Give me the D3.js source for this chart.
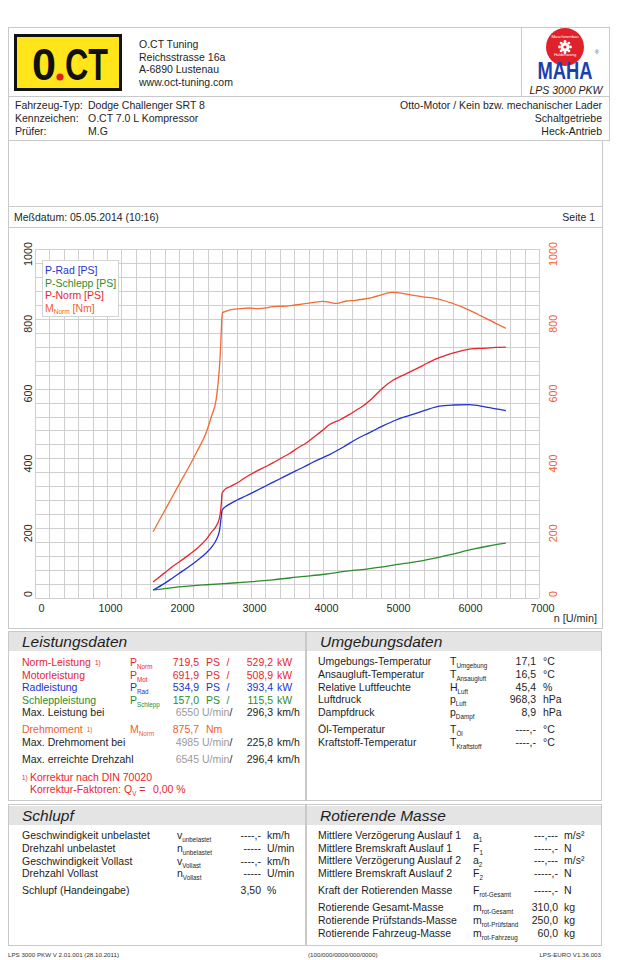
<!DOCTYPE html>
<html><head><meta charset="utf-8">
<script src="https://cdn.jsdelivr.net/npm/d3@7"></script>
<style>
body{margin:0;background:#fff}
svg{display:block;font-family:"Liberation Sans",Arial,Helvetica,sans-serif}
</style>
</head><body>
<svg id="c" width="617" height="960"></svg>
<script>
// ---------------- DATA ----------------
const rpmTorque = [1640,1800,1915,2000,2146,2250,2378,2450,2517,2545,2563,2578,2586,2595,2605,2632,2700,2748,2850,2980,3100,3211,3300,3443,3550,3674,3800,3900,3998,4092,4184,4323,4450,4554,4680,4785,4880,4970,5100,5200,5385,5570,5700,5801,5920,6032,6150,6263,6400,6540];
const torqueNorm = [190,250,293,325,379,420,474,520,570,620,665,720,760,800,818,820,825,827,829,831,829,831,835,836,838,841,845,848,850,847,844,851,853,856,861,867,873,876,873,869,863,858,851,844,835,825,813,801,787,773];

const rpmNorm = [1640,1800,1915,2000,2146,2250,2378,2450,2517,2545,2563,2578,2590,2598,2632,2700,2841,2950,3072,3200,3304,3420,3535,3650,3767,3880,3998,4092,4230,4369,4460,4554,4693,4831,4970,5100,5200,5385,5570,5700,5801,5920,6032,6263,6401,6540];
const powerNorm = [46,72,91,103,125,142,168,188,206,218,230,250,275,300,310,318,334,349,363,376,387,401,414,430,444,462,481,497,510,526,538,550,574,602,624,637,647,666,685,695,702,708,713,716,718,719];

const rpmRad = [1640,1800,1915,2000,2146,2250,2378,2450,2517,2545,2563,2575,2586,2600,2650,2702,2800,2933,3050,3165,3280,3396,3510,3628,3740,3859,3975,4091,4277,4462,4647,4831,5016,5247,5478,5616,5801,6032,6263,6540];
const powerRad = [23,42,58,70,91,107,129,145,166,180,194,212,232,252,262,269,280,293,305,317,329,341,353,365,376,389,400,411,432,455,474,493,510,526,542,550,553,554,547,537];

const rpmSchlepp = [1640,1915,2378,2755,3300,3700,4028,4300,4607,5069,5389,5764,6083,6300,6540];
const powerSchlepp = [23,30,38,43,52,61,68,76,83,97,107,124,140,149,157];

const xTickValues = [0,1000,2000,3000,4000,5000,6000,7000];
const yTickValues = [0,200,400,600,800,1000];
const legendItems = [["P-Rad [PS]","","", "#2233cc"],["P-Schlepp [PS]","","","#2e8b2e"],["P-Norm [PS]","","","#e8262d"],["M","Norm"," [Nm]","#f0602a"]];

const companyLines = ["O.CT Tuning","Reichsstrasse 16a","A-6890 Lustenau","www.oct-tuning.com"];
const vehicleLeft = [["Fahrzeug-Typ:","Dodge Challenger SRT 8"],["Kennzeichen:","O.CT 7.0 L Kompressor"],["Prüfer:","M.G"]];
const vehicleRight = ["Otto-Motor / Kein bzw. mechanischer Lader","Schaltgetriebe","Heck-Antrieb"];

// ---------------- COLORS ----------------
const C = {red:"#e8262d", blue:"#2233cc", green:"#2e8b2e", orange:"#f0602a", text:"#1e1e1e", gray:"#9a9a9a", border:"#c9c9c9", band:"#e4e4e4", grid:"#cfcfcf"};
const FS = 10.5;

const svg = d3.select("#c");

// ---------------- FRAMES ----------------
function box(x1,y1,x2,y2,fill){ svg.append("rect").attr("x",x1+0.5).attr("y",y1+0.5).attr("width",x2-x1).attr("height",y2-y1).attr("fill",fill||"none").attr("stroke",C.border).attr("stroke-width",1); }
box(8,27,609,96);
svg.append("line").attr("x1",521.5).attr("x2",521.5).attr("y1",27).attr("y2",96).attr("stroke",C.border);
box(8,96,609,140);
box(8,140,602,206);
box(8,206,602,227);
box(8,227,602,628);
box(8,631,305,800); box(306,631,601,800);
box(8,804,305,945); box(306,804,601,945);

// ---------------- HEADER ----------------
// O.CT logo
svg.append("rect").attr("x",15.5).attr("y",35.5).attr("width",105).attr("height",54).attr("fill","#ffe51a").attr("stroke","#111").attr("stroke-width",3);
svg.append("text").attr("x",32).attr("y",80).attr("font-size",44).attr("font-weight","bold").attr("textLength",24).attr("lengthAdjust","spacingAndGlyphs").attr("fill","#111").text("0");
svg.append("text").attr("x",65).attr("y",80).attr("font-size",44).attr("font-weight","bold").attr("textLength",43).attr("lengthAdjust","spacingAndGlyphs").attr("fill","#111").text("CT");
svg.append("circle").attr("cx",60).attr("cy",77).attr("r",3.6).attr("fill","#e02020");

companyLines.forEach((t,i)=> svg.append("text").attr("x",139).attr("y",48+i*12.7).attr("font-size",FS).attr("fill",C.text).text(t));

// MAHA logo
const mg = svg.append("g");
mg.append("circle").attr("cx",565).attr("cy",47).attr("r",19).attr("fill","#e0202a");
const gear = d3.range(8).map(i=>{const a=i*Math.PI/4; return [565+Math.cos(a)*5.5, 47+Math.sin(a)*5.5];});
gear.forEach(p=> mg.append("circle").attr("cx",p[0]).attr("cy",p[1]).attr("r",1.4).attr("fill","#fff"));
mg.append("circle").attr("cx",565).attr("cy",47).attr("r",4.5).attr("fill","#fff");
mg.append("circle").attr("cx",565).attr("cy",47).attr("r",1.6).attr("fill","#e0202a");
mg.append("text").attr("x",565).attr("y",38).attr("text-anchor","middle").attr("font-size",4.2).attr("fill","#fff").text("Maschinenbau");
mg.append("text").attr("x",565).attr("y",56).attr("text-anchor","middle").attr("font-size",4).attr("fill","#fff").text("Haldenwang");
mg.append("text").attr("x",565).attr("y",79).attr("text-anchor","middle").attr("font-size",23).attr("font-weight","bold").attr("textLength",55).attr("lengthAdjust","spacingAndGlyphs").attr("fill","#1a3fb0").text("MAHA");
mg.append("text").attr("x",595).attr("y",54).attr("font-size",5).attr("fill","#1a3fb0").text("®");
svg.append("text").attr("x",566).attr("y",93.5).attr("text-anchor","middle").attr("font-size",FS).attr("font-style","italic").attr("fill",C.text).text("LPS 3000 PKW");

vehicleLeft.forEach((r,i)=>{
  svg.append("text").attr("x",15).attr("y",109+i*12.8).attr("font-size",FS).attr("fill",C.text).text(r[0]);
  svg.append("text").attr("x",88).attr("y",109+i*12.8).attr("font-size",FS).attr("fill",C.text).text(r[1]);
});
vehicleRight.forEach((t,i)=> svg.append("text").attr("x",602).attr("y",109+i*12.8).attr("text-anchor","end").attr("font-size",FS).attr("fill",C.text).text(t));

svg.append("text").attr("x",14).attr("y",221).attr("font-size",FS).attr("fill",C.text).text("Meßdatum: 05.05.2014 (10:16)");
svg.append("text").attr("x",595).attr("y",221).attr("text-anchor","end").attr("font-size",FS).attr("fill",C.text).text("Seite 1");

// ---------------- CHART ----------------
const x = d3.scaleLinear().domain([0,7000]).range([35,539]);
const y = d3.scaleLinear().domain([0,1000]).range([598,249]);
const grid = svg.append("g").attr("stroke",C.grid).attr("stroke-width",1);
d3.range(0,7001,200).forEach(v=> grid.append("line").attr("x1",Math.round(x(v))+0.5).attr("x2",Math.round(x(v))+0.5).attr("y1",y(0)).attr("y2",y(1000)));
d3.range(0,1001,40).forEach(v=> grid.append("line").attr("y1",Math.round(y(v))+0.5).attr("y2",Math.round(y(v))+0.5).attr("x1",x(0)).attr("x2",x(7000)));

const xAxis = d3.axisBottom(x).tickValues(xTickValues).tickSize(0).tickPadding(0).tickFormat(d3.format("d"));
const gx = svg.append("g").attr("transform","translate(0,612)").call(xAxis);
gx.select(".domain").remove();
gx.selectAll("text").attr("font-size",10.8).attr("fill","#2a2a2a").attr("font-family","Liberation Sans, Arial, sans-serif").attr("dy",0).attr("dx",d=> d===0?6:3).attr("y",0);

function yLabels(xPos,color){
  yTickValues.forEach(v=>{
    const yy = v===0 ? y(v)-4 : y(v)+5;
    svg.append("text").attr("transform",`translate(${xPos},${yy}) rotate(-90)`).attr("text-anchor","middle").attr("dy","0.35em").attr("font-size",10.8).attr("fill",color).text(v);
  });
}
yLabels(28.5,"#2a2a2a");
yLabels(553,C.orange);
svg.append("text").attr("x",597).attr("y",622).attr("text-anchor","end").attr("font-size",10.8).attr("fill","#2a2a2a").text("n [U/min]");

const line = d3.line().x(d=>x(d[0])).y(d=>y(d[1])).curve(d3.curveMonotoneX);
function series(rpm,vals,color){
  svg.append("path").datum(rpm.map((r,i)=>[r,vals[i]])).attr("d",line).attr("fill","none").attr("stroke",color).attr("stroke-width",1.3);
}
series(rpmSchlepp,powerSchlepp,C.green);
series(rpmRad,powerRad,C.blue);
series(rpmNorm,powerNorm,C.red);
series(rpmTorque,torqueNorm,"#f26a35");

// legend
svg.append("rect").attr("x",42.5).attr("y",260.5).attr("width",76).attr("height",56).attr("fill","#fff").attr("stroke","#d4d4d4");
legendItems.forEach((it,i)=>{
  const t = svg.append("text").attr("x",45).attr("y",274+i*12.6).attr("font-size",FS).attr("fill",it[3]);
  t.append("tspan").text(it[0]);
  if(it[1]){ t.append("tspan").attr("font-size",6.5).attr("dy",2.5).text(it[1]); t.append("tspan").attr("dy",-2.5).text(it[2]); }
});

// ---------------- TABLES ----------------
function band(x1,x2,yTop,title){
  svg.append("rect").attr("x",x1+1).attr("y",yTop).attr("width",x2-x1-1).attr("height",19).attr("fill",C.band);
  svg.append("text").attr("x",x1+14).attr("y",yTop+15).attr("font-size",15.5).attr("font-style","italic").attr("fill",C.text).text(title);
}
band(8,305,632,"Leistungsdaten");
band(306,601,632,"Umgebungsdaten");
band(8,305,806,"Schlupf");
band(306,601,806,"Rotierende Masse");

function txt(xx,yy,s,color,anchor,size){ return svg.append("text").attr("x",xx).attr("y",yy).attr("font-size",size||FS).attr("fill",color||C.text).attr("text-anchor",anchor||"start").text(s); }
function sym(xx,yy,main,sub,color){
  const t = svg.append("text").attr("x",xx).attr("y",yy).attr("font-size",FS).attr("fill",color||C.text);
  t.append("tspan").text(main);
  t.append("tspan").attr("font-size",6.3).attr("dy",3).text(sub);
  return t;
}

// Leistungsdaten
const perfRows = [
  ["Norm-Leistung","1)","P","Norm","719,5","PS","529,2","kW",C.red,666],
  ["Motorleistung","","P","Mot","691,9","PS","508,9","kW",C.red,678.5],
  ["Radleistung","","P","Rad","534,9","PS","393,4","kW",C.blue,691],
  ["Schleppleistung","","P","Schlepp","157,0","PS","115,5","kW",C.green,703.5]
];
perfRows.forEach(r=>{
  const t = txt(22,r[9],r[0],r[8]);
  if(r[1]){ t.append("tspan").attr("font-size",6.3).attr("dx",4).attr("dy",-1).text(r[1]); }
  sym(130,r[9],r[2],r[3],r[8]);
  txt(199,r[9],r[4],r[8],"end"); txt(206,r[9],r[5],r[8]);
  txt(228,r[9],"/",r[8],"middle");
  txt(273,r[9],r[6],r[8],"end"); txt(277,r[9],r[7],r[8]);
});
const speedRows = [["Max. Leistung bei","6550","296,3",716],["Max. Drehmoment bei","4985","225,8",746],["Max. erreichte Drehzahl","6545","296,4",763]];
speedRows.forEach(r=>{
  txt(22,r[3],r[0]);
  txt(199,r[3],r[1],C.gray,"end");
  const u = txt(202,r[3],"U/min",C.gray); u.append("tspan").attr("fill",C.text).text("/");
  txt(273,r[3],r[2],C.text,"end"); txt(277,r[3],"km/h");
});
{ const t = txt(22,733,"Drehmoment",C.orange); t.append("tspan").attr("font-size",6.3).attr("dx",4).attr("dy",-1).text("1)");
  sym(130,733,"M","Norm",C.orange); txt(199,733,"875,7",C.orange,"end"); txt(206,733,"Nm",C.orange); }
{ txt(22,780,"1)",C.red,"start",6.3);
  txt(30,781,"Korrektur nach DIN 70020",C.red);
  const k = txt(30,793,"Korrektur-Faktoren: Q",C.red); k.append("tspan").attr("font-size",6.3).attr("dy",3).text("V"); k.append("tspan").attr("dy",-3).text(" =");
  txt(153,793,"0,00 %",C.red); }

// Umgebungsdaten
const envRows = [
  ["Umgebungs-Temperatur","T","Umgebung","17,1","°C",665],
  ["Ansaugluft-Temperatur","T","Ansaugluft","16,5","°C",678],
  ["Relative Luftfeuchte","H","Luft","45,4","%",691],
  ["Luftdruck","p","Luft","968,3","hPa",703],
  ["Dampfdruck","p","Dampf","8,9","hPa",716],
  ["Öl-Temperatur","T","Öl","----,-","°C",733],
  ["Kraftstoff-Temperatur","T","Kraftstoff","----,-","°C",746]
];
envRows.forEach(r=>{ txt(318,r[5],r[0]); sym(450,r[5],r[1],r[2]); txt(536,r[5],r[3],C.text,"end"); txt(543,r[5],r[4]); });

// Schlupf
const slipRows = [
  ["Geschwindigkeit unbelastet","v","unbelastet","----,-","km/h",839],
  ["Drehzahl unbelastet","n","unbelastet","-----","U/min",852],
  ["Geschwindigkeit Vollast","v","Vollast","----,-","km/h",865],
  ["Drehzahl Vollast","n","Vollast","-----","U/min",877],
  ["Schlupf (Handeingabe)","","","3,50","%",894]
];
slipRows.forEach(r=>{ txt(22,r[5],r[0]); if(r[1]) sym(177,r[5],r[1],r[2]); txt(261,r[5],r[3],C.text,"end"); txt(267,r[5],r[4]); });

// Rotierende Masse
const rotRows = [
  ["Mittlere Verzögerung Auslauf 1","a","1","---,---","m/s²",839],
  ["Mittlere Bremskraft Auslauf 1","F","1","-----,-","N",852],
  ["Mittlere Verzögerung Auslauf 2","a","2","---,---","m/s²",864],
  ["Mittlere Bremskraft Auslauf 2","F","2","-----,-","N",877],
  ["Kraft der Rotierenden Masse","F","rot-Gesamt","-----,-","N",894],
  ["Rotierende Gesamt-Masse","m","rot-Gesamt","310,0","kg",911],
  ["Rotierende Prüfstands-Masse","m","rot-Prüfstand","250,0","kg",924],
  ["Rotierende Fahrzeug-Masse","m","rot-Fahrzeug","60,0","kg",937]
];
rotRows.forEach(r=>{ txt(318,r[5],r[0]); sym(473,r[5],r[1],r[2]); txt(558,r[5],r[3],C.text,"end"); txt(564,r[5],r[4]); });

// footer
txt(8,957,"LPS 3000 PKW V 2.01.001 (28.10.2011)","#333","start",6.2);
txt(308,957,"(100/000/0000/000/0000)","#333","start",6.2);
txt(601,957,"LPS-EURO V1.36.003","#333","end",6.2);
</script>
</body></html>
